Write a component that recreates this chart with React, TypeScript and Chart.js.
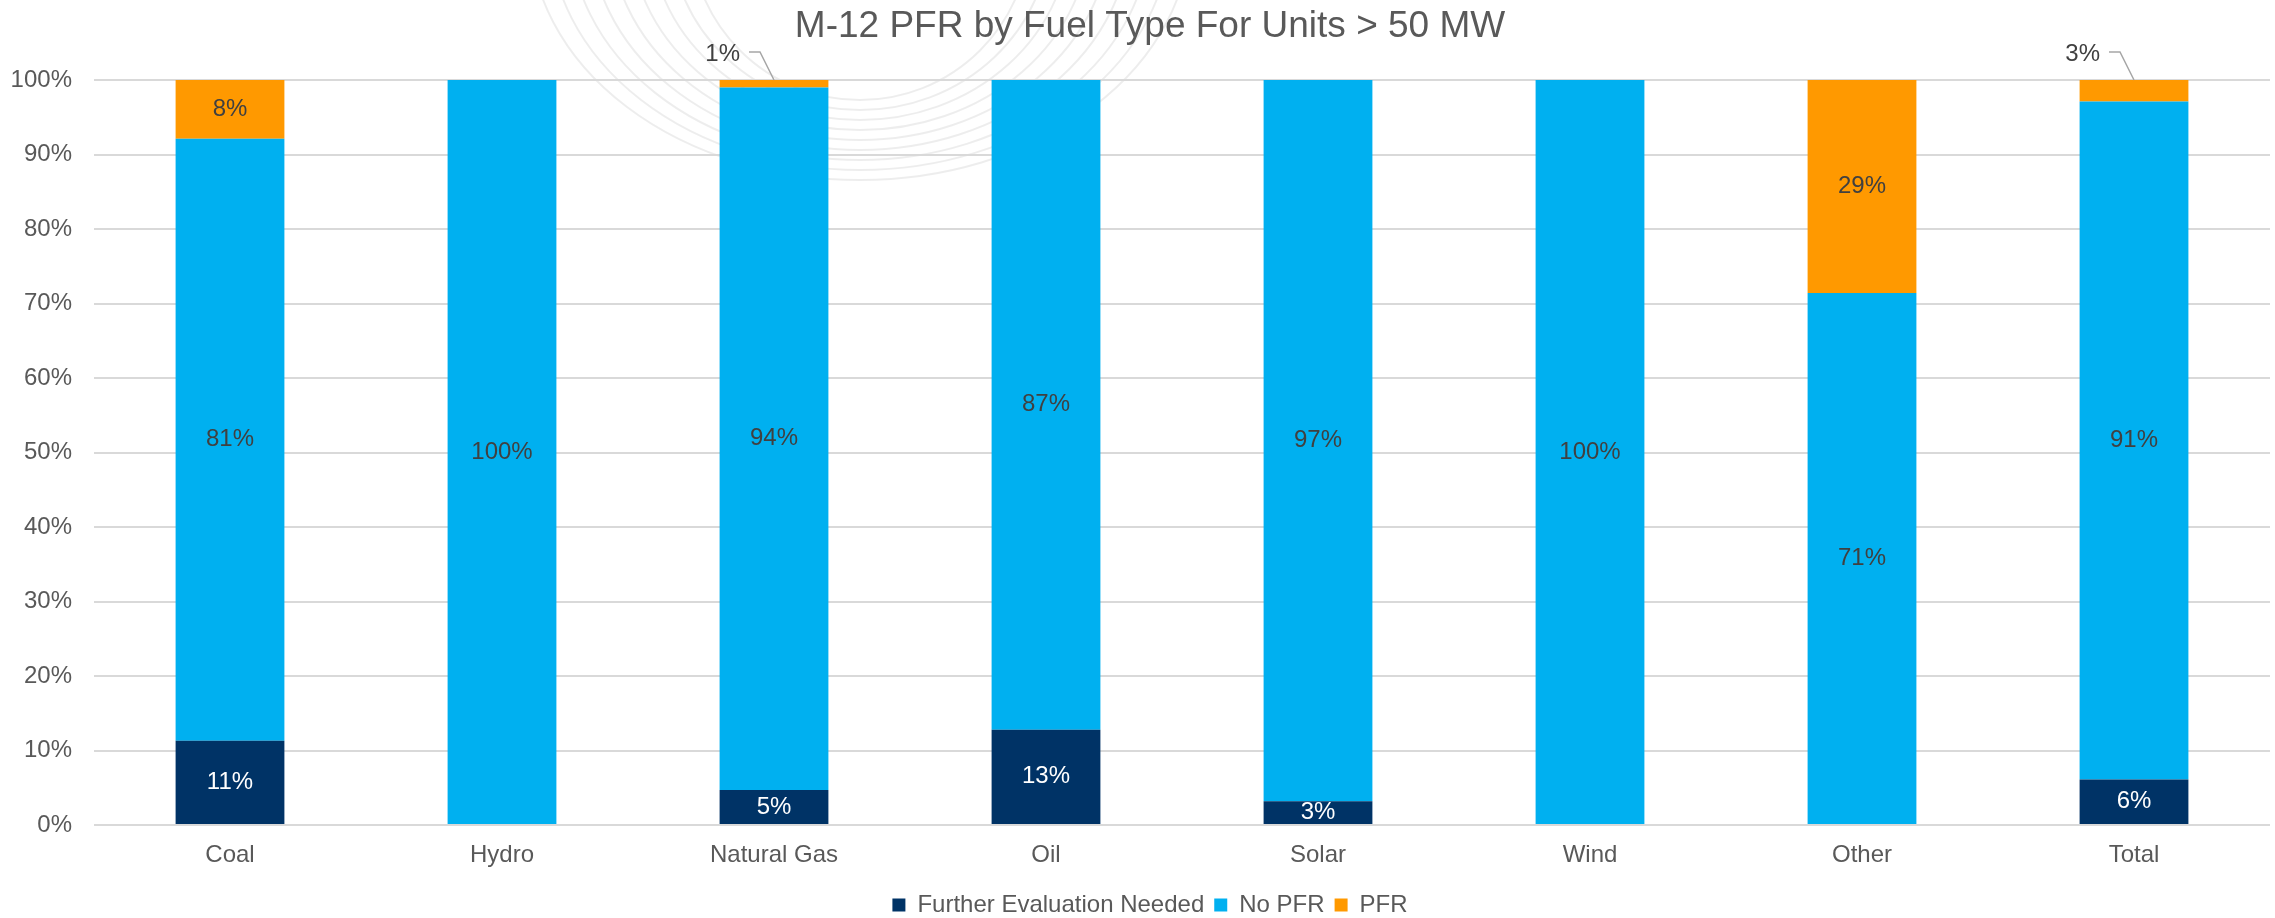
import { useEffect, useRef } from "react";
import { Chart, registerables } from "chart.js";

Chart.register(...registerables);

const categories = ["Coal", "Hydro", "Natural Gas", "Oil", "Solar", "Wind", "Other", "Total"];
const furtherEvaluation = [11.3, 0, 4.7, 12.8, 3.2, 0, 0, 6.1];
const noPfr = [80.8, 100, 94.3, 87.2, 96.8, 100, 71.4, 91.0];
const pfr = [7.9, 0, 1.0, 0, 0, 0, 28.6, 2.9];
const seriesNames = ["Further Evaluation Needed", "No PFR", "PFR"];
const seriesColors = ["#003366", "#00B0F0", "#FF9900"];
const chartTitle = "M-12 PFR by Fuel Type For Units > 50 MW";

const FONT = '"Liberation Sans", Arial, sans-serif';

const watermarkPlugin = {
  id: "watermark",
  beforeDraw(chart: any) {
    const ctx = chart.ctx;
    ctx.save();
    ctx.strokeStyle = "rgba(0,0,0,0.07)";
    ctx.lineWidth = 2;
    for (let i = 0; i < 9; i++) {
      ctx.beginPath();
      ctx.ellipse(860, -70, 170 + i * 20, 170 + i * 10, 0, 0, Math.PI);
      ctx.stroke();
    }
    ctx.restore();
  },
};

const legendShiftPlugin = {
  id: "legendShift",
  afterLayout(chart: any) {
    const lg = chart.legend;
    if (lg) {
      lg.left += 9;
      lg.right += 9;
    }
  },
};

const titlePlugin = {
  id: "customTitle",
  afterDraw(chart: any) {
    const ctx = chart.ctx;
    ctx.save();
    ctx.font = `37px ${FONT}`;
    ctx.fillStyle = "#595959";
    ctx.textAlign = "center";
    ctx.textBaseline = "alphabetic";
    ctx.fillText(chartTitle, 1150, 37);
    ctx.restore();
  },
};

const labelPlugin = {
  id: "segmentLabels",
  afterDatasetsDraw(chart: any) {
    const ctx = chart.ctx;
    const n = chart.data.datasets.length;
    ctx.save();
    ctx.font = `24px ${FONT}`;
    chart.data.datasets.forEach((ds: any, di: number) => {
      const meta = chart.getDatasetMeta(di);
      meta.data.forEach((el: any, j: number) => {
        const v = ds.data[j];
        if (!v || v <= 0) return;
        const txt = Math.round(v) + "%";
        const top = Math.min(el.y, el.base);
        if (di === n - 1 && v < 5) {
          ctx.fillStyle = "#404040";
          ctx.textAlign = "right";
          ctx.textBaseline = "middle";
          ctx.fillText(txt, el.x - 34, top - 26);
          ctx.strokeStyle = "#A6A6A6";
          ctx.lineWidth = 1.5;
          ctx.beginPath();
          ctx.moveTo(el.x - 25, top - 28);
          ctx.lineTo(el.x - 14, top - 28);
          ctx.lineTo(el.x, top);
          ctx.stroke();
          return;
        }
        ctx.fillStyle = di === 0 ? "#FFFFFF" : "#404040";
        ctx.textAlign = "center";
        ctx.textBaseline = "middle";
        ctx.fillText(txt, el.x, (el.y + el.base) / 2);
      });
    });
    ctx.restore();
  },
};

export default function App() {
  const ref = useRef<HTMLCanvasElement | null>(null);
  useEffect(() => {
    document.body.style.margin = "0";
    if (!ref.current) return;
    const datasets = [furtherEvaluation, noPfr, pfr].map((d, i) => ({
      label: seriesNames[i],
      data: d,
      backgroundColor: seriesColors[i],
      borderWidth: 0,
      barPercentage: 0.4,
      categoryPercentage: 1,
    }));
    const chart = new Chart(ref.current, {
      type: "bar",
      data: { labels: categories, datasets },
      plugins: [watermarkPlugin, legendShiftPlugin, labelPlugin, titlePlugin],
      options: {
        animation: false,
        responsive: true,
        maintainAspectRatio: false,
        layout: { padding: { left: 12, right: 5, top: 80, bottom: -9 } },
        plugins: {
          title: { display: false },
          tooltip: { enabled: false },
          legend: {
            position: "bottom",
            labels: {
              boxWidth: 13,
              boxHeight: 13,
              padding: 10,
              color: "#595959",
              font: { family: FONT, size: 24 },
            },
          },
        },
        scales: {
          x: {
            stacked: true,
            grid: { display: false },
            border: { display: false },
            ticks: { color: "#595959", font: { family: FONT, size: 24 }, padding: 8, maxRotation: 0 },
            afterFit: (s: any) => { s.height = 58; },
          },
          y: {
            stacked: true,
            min: 0,
            max: 100,
            grid: { color: "#D9D9D9", lineWidth: 2, drawTicks: false },
            border: { display: false },
            ticks: {
              stepSize: 10,
              color: "#595959",
              font: { family: FONT, size: 24 },
              padding: 22,
              callback: (v: any) => v + "%",
            },
            afterFit: (s: any) => { s.width = 82; },
          },
        },
      },
    } as any);
    return () => chart.destroy();
  }, []);
  return (
    <div style={{ width: "2275px", height: "918px", position: "relative" }}>
      <canvas ref={ref} />
    </div>
  );
}
